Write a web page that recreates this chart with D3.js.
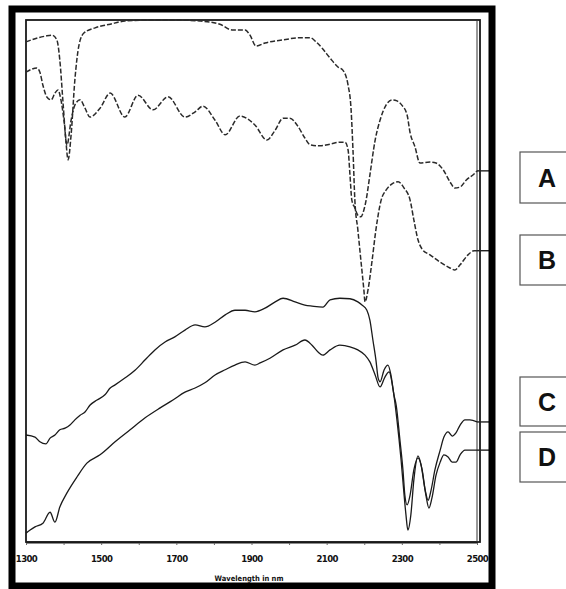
<!DOCTYPE html>
<html>
<head>
<meta charset="utf-8">
<script src="https://cdn.jsdelivr.net/npm/d3@7/dist/d3.min.js"></script>
<style>
  html, body { margin: 0; padding: 0; background: #fff; }
  svg { display: block; }
</style>
</head>
<body>
<svg id="chart" width="566" height="589"></svg>
<script>
// NIR spectra, 1300–2500 nm, relative response (arbitrary 0–100 scale)
const wavelengthTicks = [1300, 1400, 1500, 1600, 1700, 1800, 1900, 2000, 2100, 2200, 2300, 2400, 2500];
const tickLabels = ["1300", "", "1500", "", "1700", "", "1900", "", "2100", "", "2300", "", "2500"];
const axisTitle = "Wavelength in nm";
const seriesNames = ["A", "B", "C", "D"];

// Spectrum A: wavy baseline, shallow 2200 nm band
const seriesA = [
  [1300, 90.0], [1329, 90.8], [1337, 90.0], [1345, 87.5], [1356, 85.2], [1367, 84.7],
  [1377, 86.0], [1385, 86.6], [1393, 84.7], [1401, 80.8], [1409, 76.0], [1420, 80.8],
  [1430, 83.7], [1444, 84.7], [1457, 83.1], [1470, 81.4], [1497, 83.1], [1524, 86.0],
  [1563, 81.4], [1598, 85.6], [1638, 82.8], [1678, 85.3], [1723, 81.4], [1750, 82.4],
  [1771, 83.5], [1803, 80.8], [1830, 78.0], [1869, 81.6], [1909, 79.9], [1941, 77.0],
  [1963, 78.9], [1984, 81.2], [2002, 81.2], [2021, 79.9], [2042, 77.4], [2056, 76.1],
  [2082, 75.9], [2109, 76.2], [2135, 76.6], [2149, 76.6], [2157, 75.1], [2162, 70.3],
  [2167, 65.5], [2175, 64.0], [2183, 62.6], [2191, 62.3], [2199, 63.6], [2205, 65.5],
  [2215, 70.3], [2229, 77.0], [2242, 80.8], [2258, 83.7], [2274, 84.7], [2287, 84.5],
  [2300, 83.7], [2314, 81.8], [2322, 78.4], [2335, 75.7], [2348, 72.6], [2375, 72.8],
  [2391, 72.6], [2410, 71.3], [2428, 69.0], [2441, 67.8], [2455, 68.0], [2471, 69.3],
  [2495, 70.7], [2500, 71.1]
];

// Spectrum B: flat top, strong 1420 nm and 2200 nm bands
const seriesB = [
  [1300, 95.8], [1332, 96.6], [1351, 96.9], [1369, 97.1], [1382, 96.2], [1390, 92.3],
  [1398, 84.7], [1406, 77.0], [1412, 73.2], [1420, 78.0], [1430, 88.5], [1441, 95.2],
  [1454, 97.5], [1484, 98.5], [1524, 99.2], [1563, 99.8], [1630, 100], [1696, 100],
  [1763, 99.8], [1816, 99.2], [1848, 98.1], [1883, 98.1], [1896, 97.1], [1912, 95.0],
  [1936, 95.6], [1984, 96.2], [2029, 96.6], [2056, 96.6], [2072, 95.8], [2088, 94.6],
  [2109, 92.7], [2130, 91.0], [2143, 90.4], [2157, 87.5], [2165, 82.8], [2170, 75.1],
  [2175, 65.5], [2183, 59.8], [2191, 54.0], [2199, 48.3], [2202, 46.0], [2210, 48.3],
  [2221, 54.0], [2231, 59.8], [2245, 65.5], [2258, 67.4], [2274, 68.6], [2290, 69.0],
  [2306, 67.8], [2322, 65.5], [2332, 61.7], [2343, 57.9], [2354, 56.1], [2375, 55.0],
  [2402, 53.6], [2428, 52.5], [2441, 52.1], [2455, 53.1], [2476, 55.0], [2492, 55.8],
  [2500, 55.8]
];

// Spectrum C: rising baseline, 2250/2310/2370 nm bands
const seriesC = [
  [1300, 20.5], [1324, 20.1], [1337, 19.2], [1353, 18.8], [1364, 19.9], [1377, 20.5],
  [1390, 21.5], [1404, 21.8], [1417, 22.4], [1430, 23.4], [1444, 24.3], [1457, 24.9],
  [1470, 26.2], [1489, 27.2], [1510, 28.2], [1524, 29.5], [1537, 30.1], [1563, 31.4],
  [1590, 32.9], [1617, 34.9], [1643, 36.8], [1670, 38.3], [1696, 39.3], [1723, 40.6],
  [1750, 41.6], [1776, 41.2], [1803, 42.1], [1830, 43.5], [1856, 44.4], [1883, 44.4],
  [1909, 44.1], [1936, 44.8], [1963, 46.0], [1984, 46.7], [2016, 46.0], [2042, 45.4],
  [2061, 45.2], [2090, 45.0], [2109, 46.4], [2135, 46.7], [2162, 46.6], [2183, 46.0],
  [2194, 45.4], [2207, 44.4], [2215, 42.5], [2223, 38.7], [2231, 34.9], [2237, 31.4],
  [2242, 30.7], [2253, 33.0], [2263, 33.9], [2271, 32.0], [2279, 28.2], [2285, 26.2],
  [2295, 19.5], [2303, 13.8], [2308, 9.0], [2314, 7.1], [2322, 9.0], [2332, 13.8],
  [2343, 16.1], [2351, 14.8], [2362, 10.0], [2370, 8.0], [2378, 10.0], [2388, 13.8],
  [2402, 17.6], [2412, 20.1], [2423, 21.1], [2434, 20.3], [2444, 20.9], [2455, 22.4],
  [2468, 23.4], [2481, 23.4], [2500, 23.0]
];

// Spectrum D: lowest trace, deepest 2310 nm band
const seriesD = [
  [1300, 1.7], [1311, 2.3], [1324, 2.9], [1345, 3.6], [1364, 5.7], [1377, 3.8],
  [1390, 6.7], [1409, 9.4], [1436, 12.5], [1462, 15.1], [1497, 16.7], [1537, 19.2],
  [1577, 21.5], [1617, 23.8], [1657, 25.7], [1691, 27.2], [1723, 28.7], [1750, 29.5],
  [1776, 30.5], [1803, 32.0], [1830, 33.0], [1856, 33.9], [1883, 34.5], [1909, 33.9],
  [1923, 34.3], [1949, 35.2], [1984, 36.8], [2016, 37.7], [2042, 38.7], [2061, 37.7],
  [2077, 36.4], [2090, 35.8], [2109, 36.8], [2135, 37.7], [2162, 37.4], [2183, 36.8],
  [2202, 35.8], [2215, 34.5], [2229, 32.0], [2242, 29.7], [2255, 31.6], [2266, 32.6],
  [2277, 29.1], [2287, 23.4], [2298, 15.7], [2306, 9.0], [2311, 5.2], [2316, 2.3],
  [2324, 5.2], [2332, 11.9], [2343, 16.5], [2354, 13.8], [2364, 9.0], [2372, 6.5],
  [2380, 8.4], [2391, 12.8], [2402, 15.3], [2412, 16.7], [2423, 16.3], [2434, 15.3],
  [2444, 15.3], [2455, 16.7], [2468, 17.6], [2500, 17.6]
];

const allSeries = [seriesA, seriesB, seriesC, seriesD];

const svg = d3.select("#chart");

// plot area inside the inner frame
const plot = { left: 26, right: 477, top: 20, bottom: 542 };

const x = d3.scaleLinear().domain([1300, 2500]).range([plot.left, plot.right]);
const y = d3.scaleLinear().domain([0, 100]).range([plot.bottom, plot.top]);

// bottom axis with labels every 200 nm, ticks every 100 nm
const labelFor = new Map(wavelengthTicks.map((t, i) => [t, tickLabels[i]]));
const axis = d3.axisBottom(x)
  .tickValues(wavelengthTicks)
  .tickFormat(d => labelFor.get(d))
  .tickSize(3)
  .tickSizeOuter(0)
  .tickPadding(10);

const gAxis = svg.append("g")
  .attr("transform", `translate(0,${plot.bottom})`)
  .call(axis);
gAxis.select(".domain").attr("stroke", "#1a1a1a").attr("stroke-width", 2);
gAxis.selectAll(".tick line").attr("stroke", "#666").attr("stroke-width", 1);
gAxis.selectAll(".tick text")
  .attr("fill", "#111")
  .style("font-family", "'DejaVu Sans Condensed', 'DejaVu Sans', sans-serif")
  .style("font-weight", "bold")
  .style("font-size", "9.5px")
  .style("letter-spacing", "-0.6px");

svg.append("text")
  .attr("x", 249)
  .attr("y", 581)
  .attr("text-anchor", "middle")
  .style("font-family", "'DejaVu Sans Condensed', 'DejaVu Sans', sans-serif")
  .style("font-weight", "bold")
  .style("font-size", "7.5px")
  .attr("fill", "#111")
  .text(axisTitle);

// inner frame
svg.append("rect")
  .attr("x", plot.left).attr("y", plot.top)
  .attr("width", 480 - plot.left).attr("height", plot.bottom - plot.top)
  .attr("fill", "none").attr("stroke", "#1a1a1a").attr("stroke-width", 1.8);
svg.append("line")
  .attr("x1", x(2500)).attr("x2", x(2500))
  .attr("y1", plot.top).attr("y2", plot.bottom)
  .attr("stroke", "#333").attr("stroke-width", 1);

// spectra
const line = d3.line()
  .x(d => x(d[0]))
  .y(d => y(d[1]))
  .curve(d3.curveMonotoneX);

const styles = [
  { stroke: "#2a2a2a", width: 1.5, dash: "5 2" },
  { stroke: "#2a2a2a", width: 1.5, dash: "5 2" },
  { stroke: "#1a1a1a", width: 1.3, dash: null },
  { stroke: "#1a1a1a", width: 1.3, dash: null }
];

svg.append("g")
  .selectAll("path")
  .data(allSeries)
  .join("path")
  .attr("d", line)
  .attr("fill", "none")
  .attr("stroke", (d, i) => styles[i].stroke)
  .attr("stroke-width", (d, i) => styles[i].width)
  .attr("stroke-dasharray", (d, i) => styles[i].dash)
  .attr("stroke-linejoin", "round");

// short leaders from each trace end to the outer frame
svg.append("g")
  .selectAll("line")
  .data(allSeries)
  .join("line")
  .attr("x1", x(2500))
  .attr("x2", 489)
  .attr("y1", d => y(d[d.length - 1][1]))
  .attr("y2", d => y(d[d.length - 1][1]))
  .attr("stroke", "#222")
  .attr("stroke-width", 1.4);

// outer heavy frame
svg.append("rect")
  .attr("x", 12).attr("y", 9)
  .attr("width", 480).attr("height", 577)
  .attr("fill", "none").attr("stroke", "#000").attr("stroke-width", 7);

// series label boxes
const boxTops = [152, 235, 377, 432];
const boxHeights = [51, 50, 49, 50];
const gLabels = svg.append("g")
  .selectAll("g")
  .data(seriesNames)
  .join("g")
  .attr("transform", (d, i) => `translate(520,${boxTops[i]})`);

gLabels.append("rect")
  .attr("x", 0).attr("y", 0)
  .attr("width", 70)
  .attr("height", (d, i) => boxHeights[i])
  .attr("fill", "#fff")
  .attr("stroke", "#555")
  .attr("stroke-width", 1.2);

gLabels.append("text")
  .attr("x", 27)
  .attr("y", (d, i) => boxHeights[i] / 2 + 9)
  .attr("text-anchor", "middle")
  .style("font-family", "'Liberation Sans', Arial, sans-serif")
  .style("font-weight", "bold")
  .style("font-size", "25px")
  .attr("fill", "#111")
  .text(d => d);
</script>
</body>
</html>
